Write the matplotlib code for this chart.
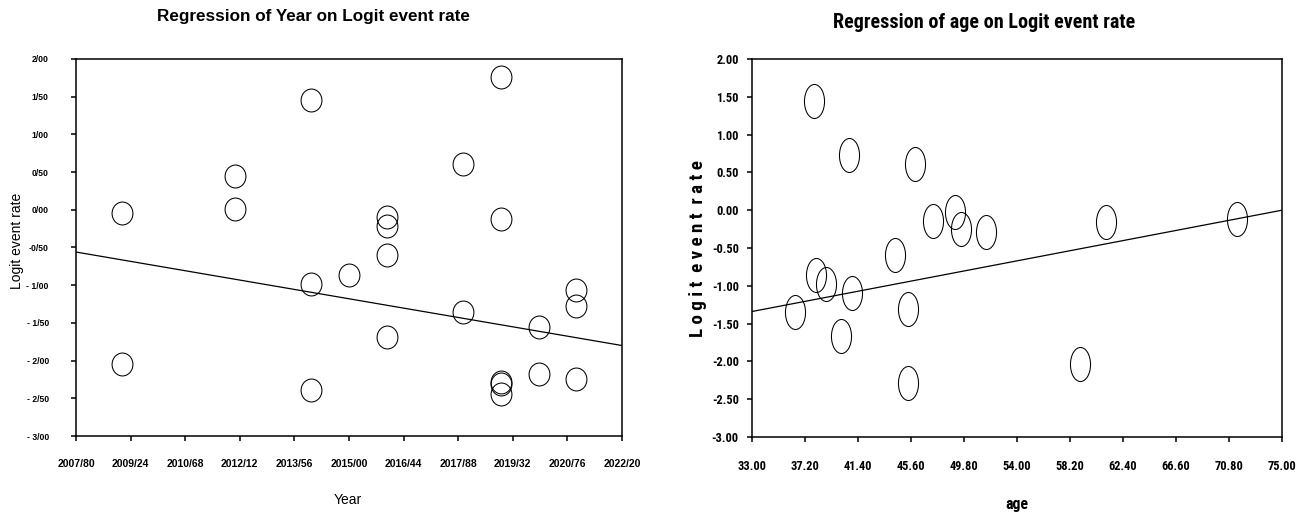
import numpy as np
import matplotlib
matplotlib.use("Agg")
import matplotlib.pyplot as plt
from matplotlib import font_manager as fm
from matplotlib.path import Path
from matplotlib.transforms import Affine2D

# --- data ---
year = [2009, 2009, 2012, 2012, 2014, 2014, 2014, 2015, 2016, 2016, 2016, 2016,
        2018, 2018, 2019, 2019, 2019, 2019, 2019, 2020, 2020, 2021, 2021, 2021]
logit_year = [-0.04, -2.04, 0.45, 0.01, 1.45, -0.98, -2.39, -0.86, -0.09, -0.22, -0.60, -1.69,
              0.61, -1.35, 1.76, -0.12, -2.28, -2.31, -2.44, -1.56, -2.18, -1.06, -1.27, -2.24]

age = [37.95, 40.68, 45.91, 47.33, 49.07, 49.57, 51.52, 61.08, 71.45, 44.32,
       38.11, 38.90, 40.96, 36.44, 45.35, 40.04, 58.98, 45.35]
logit_age = [1.45, 0.73, 0.61, -0.14, -0.03, -0.25, -0.29, -0.15, -0.11, -0.59,
             -0.86, -0.98, -1.09, -1.35, -1.31, -1.67, -2.04, -2.28]

# fitted lines (end values)
year_line_x = [2007.80, 2022.20]
year_line_y = [-0.56, -1.80]
age_line_x = [33.0, 75.0]
age_line_y = [-1.34, 0.0]

year_ticks = [2007.80, 2009.24, 2010.68, 2012.12, 2013.56, 2015.00,
              2016.44, 2017.88, 2019.32, 2020.76, 2022.20]
year_tick_labels = ["2007/80", "2009/24", "2010/68", "2012/12", "2013/56", "2015/00",
                    "2016/44", "2017/88", "2019/32", "2020/76", "2022/20"]
logit_ticks = [2.0, 1.5, 1.0, 0.5, 0.0, -0.5, -1.0, -1.5, -2.0, -2.5, -3.0]
logit_tick_labels_fa = ["2/00", "1/50", "1/00", "0/50", "0/00", "-0/50",
                        "- 1/00", "- 1/50", "- 2/00", "- 2/50", "- 3/00"]
logit_tick_labels = ["2.00", "1.50", "1.00", "0.50", "0.00", "-0.50",
                     "-1.00", "-1.50", "-2.00", "-2.50", "-3.00"]
age_ticks = [33.00, 37.20, 41.40, 45.60, 49.80, 54.00, 58.20, 62.40, 66.60, 70.80, 75.00]
age_tick_labels = ["%.2f" % a for a in age_ticks]

W, H = 1303, 521
fig = plt.figure(figsize=(W / 100, H / 100), dpi=100)
renderer = fig.canvas.get_renderer()

regular = ["Liberation Sans", "DejaVu Sans"]


def condensed_bold():
    # look for a narrow / condensed bold sans face, else plain bold
    pref = ["Liberation Sans Narrow", "Roboto Condensed", "Noto Sans", "Noto Sans Condensed",
            "Open Sans", "Open Sans Condensed", "DejaVu Sans", "Roboto", "Lato", "Inter"]
    best, best_score = None, None
    for f in fm.fontManager.ttflist:
        fn = f.fname.lower()
        cond = (f.stretch in ("condensed", "semi-condensed", "extra-condensed")
                or "narrow" in fn or "condensed" in fn or "Narrow" in f.name or "Condensed" in f.name)
        if not cond or f.style != "normal":
            continue
        try:
            w = int(f.weight)
        except (TypeError, ValueError):
            w = {"bold": 700, "semibold": 600, "normal": 400}.get(str(f.weight), 400)
        if w < 600 or w > 800:
            continue
        if "extra" in fn or "ultra" in fn:
            kind = 2
        elif "semi" in fn:
            kind = 1
        else:
            kind = 0
        score = (kind, pref.index(f.name) if f.name in pref else 99, abs(w - 700))
        if best_score is None or score < best_score:
            best, best_score = f, score
    if best is None:
        return fm.FontProperties(family="Liberation Sans", weight="bold")
    return fm.FontProperties(fname=best.fname)


def fit(fp, text, target_px):
    fp = fp.copy()
    fp.set_size(10)
    t = fig.text(0, 0, text, fontproperties=fp)
    w = t.get_window_extent(renderer).width
    t.remove()
    fp.set_size(10 * target_px / w)
    return fp


cond = condensed_bold()


def ellipse(aspect):
    return Path.unit_circle().transformed(Affine2D().scale(aspect, 1.0))


def px_axes(x0, y0, x1, y1):
    return fig.add_axes([x0 / W, 1 - y1 / H, (x1 - x0) / W, (y1 - y0) / H])


def style(ax):
    for s in ax.spines.values():
        s.set_linewidth(1.1)
        s.set_color("black")
    ax.tick_params(direction="out", length=3.6, width=1.1, color="black")


# ---------------- left: year ----------------
ax1 = px_axes(76, 59, 622, 436)
ax1.plot(year_line_x, year_line_y, color="black", lw=0.9)
ax1.plot(year, logit_year, linestyle="none", marker=ellipse(0.91), markersize=16.5,
         mfc="none", mec="black", mew=0.75)
ax1.set_xlim(year_ticks[0], year_ticks[-1])
ax1.set_ylim(-3, 2)
ax1.set_xticks(year_ticks)
ax1.set_xticklabels(year_tick_labels, fontsize=7.5, fontweight="bold", family=regular)
ax1.set_yticks(logit_ticks)
ax1.set_yticklabels(logit_tick_labels_fa, fontsize=6.2, fontweight="bold", family=regular)
style(ax1)
ax1.tick_params(axis="x", pad=13)
ax1.tick_params(axis="y", pad=16)

fig.text(313 / W, 1 - 17 / H, "Regression of Year on Logit event rate", ha="center", va="center",
         fontsize=12.3, fontweight="bold", family=regular)
fig.text(348 / W, 1 - 500 / H, "Year", ha="center", va="center", fontsize=10, family=regular)
fig.text(17 / W, 1 - 241 / H, "Logit event rate", ha="center", va="center", rotation=90,
         fontsize=10, family=regular)

# ---------------- right: age ----------------
tick_fp = fit(cond, "33.00", 29)
title_fp = fit(cond, "Regression of age on Logit event rate", 302)
age_fp = fit(cond, "age", 23)
ylab_text = "L o g i t  e v e n t  r a t e"
ylab_fp = fit(cond, ylab_text, 178)

ax2 = px_axes(752, 59, 1282, 437)
ax2.plot(age_line_x, age_line_y, color="black", lw=0.9)
ax2.plot(age, logit_age, linestyle="none", marker=ellipse(0.59), markersize=24.5,
         mfc="none", mec="black", mew=0.75)
ax2.set_xlim(age_ticks[0], age_ticks[-1])
ax2.set_ylim(-3, 2)
ax2.set_xticks(age_ticks)
ax2.set_xticklabels(age_tick_labels, fontproperties=tick_fp)
ax2.set_yticks(logit_ticks)
ax2.set_yticklabels(logit_tick_labels, fontproperties=tick_fp)
style(ax2)
ax2.tick_params(axis="x", pad=13)
ax2.tick_params(axis="y", pad=6)

fig.text(984 / W, 1 - 22 / H, "Regression of age on Logit event rate", ha="center", va="center",
         fontproperties=title_fp)
fig.text(1017 / W, 1 - 505 / H, "age", ha="center", va="center", fontproperties=age_fp)
fig.text(698 / W, 1 - 249 / H, ylab_text, ha="center", va="center", rotation=90,
         fontproperties=ylab_fp)

fig.savefig("out.png", dpi=100)
